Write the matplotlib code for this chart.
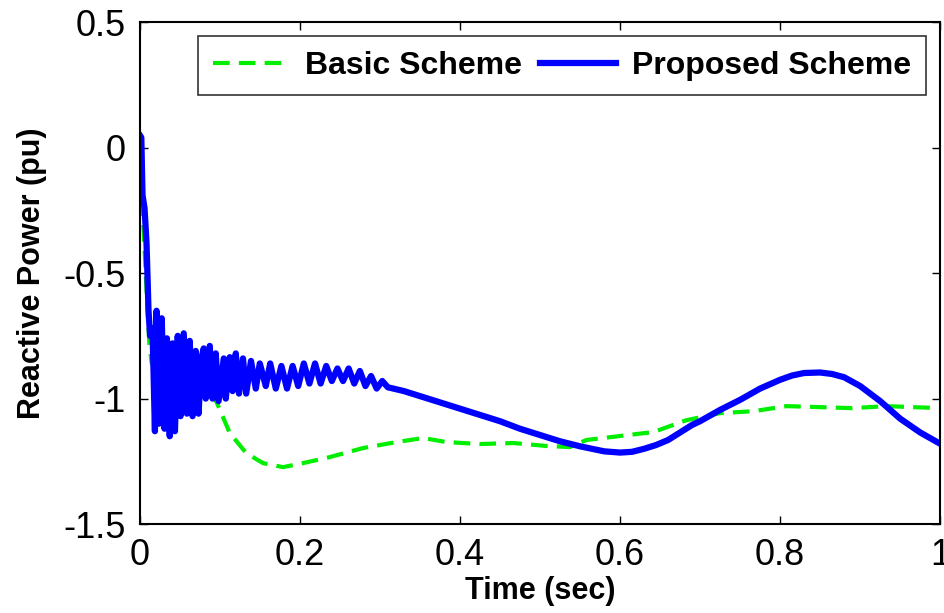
import numpy as np
import matplotlib
matplotlib.use('Agg')
import matplotlib.pyplot as plt

plt.rcParams['font.family'] = ['Liberation Sans', 'DejaVu Sans']
plt.rcParams['axes.unicode_minus'] = False

# Basic Scheme (dashed green)
t_basic = [0.0, 0.003, 0.006, 0.009, 0.012, 0.015, 0.02, 0.04, 0.06, 0.08, 0.09,
           0.096, 0.1125, 0.133, 0.154, 0.179, 0.204, 0.2375, 0.279, 0.321, 0.354,
           0.383, 0.425, 0.467, 0.509, 0.5375, 0.558, 0.60, 0.642, 0.683, 0.725,
           0.767, 0.808, 0.85, 0.89, 0.933, 1.0]
q_basic = [0.0, -0.2, -0.4, -0.6, -0.78, -0.86, -0.88, -0.9, -0.92, -0.95, -0.98,
           -1.014, -1.137, -1.217, -1.257, -1.273, -1.257, -1.233, -1.197, -1.173, -1.157,
           -1.173, -1.181, -1.177, -1.189, -1.193, -1.165, -1.149, -1.133, -1.086, -1.058,
           -1.050, -1.030, -1.034, -1.038, -1.030, -1.038]

# Proposed Scheme (solid blue): start, oscillating part (peaks/troughs), trend
t_prop = [0.0, 0.002, 0.0035, 0.006, 0.0085, 0.011, 0.013,
          0.016, 0.019, 0.021, 0.024, 0.0275, 0.031, 0.034, 0.0375, 0.041, 0.044,
          0.0475, 0.051, 0.055, 0.059, 0.0625, 0.066, 0.070, 0.0735, 0.077, 0.080,
          0.0825, 0.0875, 0.091, 0.095, 0.0985, 0.105, 0.1075, 0.1125, 0.116, 0.120,
          0.124, 0.129, 0.133, 0.139, 0.145, 0.150, 0.1575,
          0.163, 0.170, 0.177, 0.184, 0.191, 0.198, 0.205, 0.212, 0.219, 0.226,
          0.233, 0.240, 0.247, 0.254, 0.261, 0.268, 0.275, 0.282, 0.289, 0.296, 0.303,
          0.31, 0.33, 0.35, 0.375, 0.40, 0.425, 0.45, 0.475, 0.50, 0.525, 0.55, 0.565,
          0.58, 0.60, 0.615, 0.63, 0.645, 0.66, 0.675, 0.69, 0.70, 0.725, 0.75, 0.775,
          0.80, 0.815, 0.83, 0.85, 0.865, 0.88, 0.90, 0.925, 0.95, 0.975, 1.0]
q_prop = [0.05, 0.04, -0.19, -0.24, -0.38, -0.65, -0.75,
          -0.72, -1.13, -0.65, -1.10, -0.68, -1.12, -0.76, -1.15, -0.78, -1.13,
          -0.75, -1.07, -0.74, -1.06, -0.77, -1.07, -0.81, -1.06, -0.84, -0.80,
          -1.00, -0.79, -1.00, -0.82, -1.01, -0.84, -1.00, -0.835, -0.97, -0.82,
          -0.98, -0.84, -0.98, -0.85, -0.96, -0.86, -0.95,
          -0.86, -0.96, -0.87, -0.96, -0.87, -0.95, -0.86, -0.94, -0.86, -0.94,
          -0.87, -0.93, -0.88, -0.93, -0.88, -0.94, -0.89, -0.95, -0.91, -0.96, -0.93,
          -0.955, -0.97, -0.99, -1.015, -1.04, -1.065, -1.09, -1.12, -1.145, -1.17, -1.19, -1.20,
          -1.21, -1.215, -1.212, -1.20, -1.185, -1.165, -1.135, -1.105, -1.09, -1.045, -1.005, -0.96,
          -0.925, -0.908, -0.898, -0.896, -0.902, -0.915, -0.95, -1.01, -1.08, -1.135, -1.18]

fig = plt.figure(figsize=(9.44, 6.13), dpi=100)
ax = fig.add_axes([0.148, 0.145, 0.848, 0.819])

ax.plot(t_basic, q_basic, color='#00ee00', lw=3, dashes=(4, 2.2), label='Basic Scheme')
ax.plot(t_prop, q_prop, color='#0000ff', lw=4.5, solid_joinstyle='round',
        label='Proposed Scheme')

ax.set_xlim(0, 1)
ax.set_ylim(-1.5, 0.5)
ax.set_xticks([0, 0.2, 0.4, 0.6, 0.8, 1])
ax.set_xticklabels(['0', '0.2', '0.4', '0.6', '0.8', '1'])
ax.set_yticks([-1.5, -1, -0.5, 0, 0.5])
ax.set_yticklabels(['-1.5', '-1', '-0.5', '0', '0.5'])
ax.tick_params(direction='in', length=6, width=1, top=True, right=True,
               labelsize=26, pad=10)
for s in ax.spines.values():
    s.set_linewidth(1.5)

ax.set_xlabel('Time (sec)', fontsize=22, fontweight='bold', labelpad=2)
ax.set_ylabel('Reactive Power (pu)', fontsize=22, fontweight='bold', labelpad=12)

leg = ax.legend(loc='upper right', ncol=2, prop={'weight': 'bold', 'size': 23},
                frameon=True, fancybox=False, handlelength=2.4, handletextpad=0.5,
                columnspacing=0.55, borderpad=0.45, borderaxespad=0.45)
leg.get_frame().set_edgecolor('black')
leg.get_frame().set_linewidth(1.2)

fig.savefig('out.png', dpi=100)
